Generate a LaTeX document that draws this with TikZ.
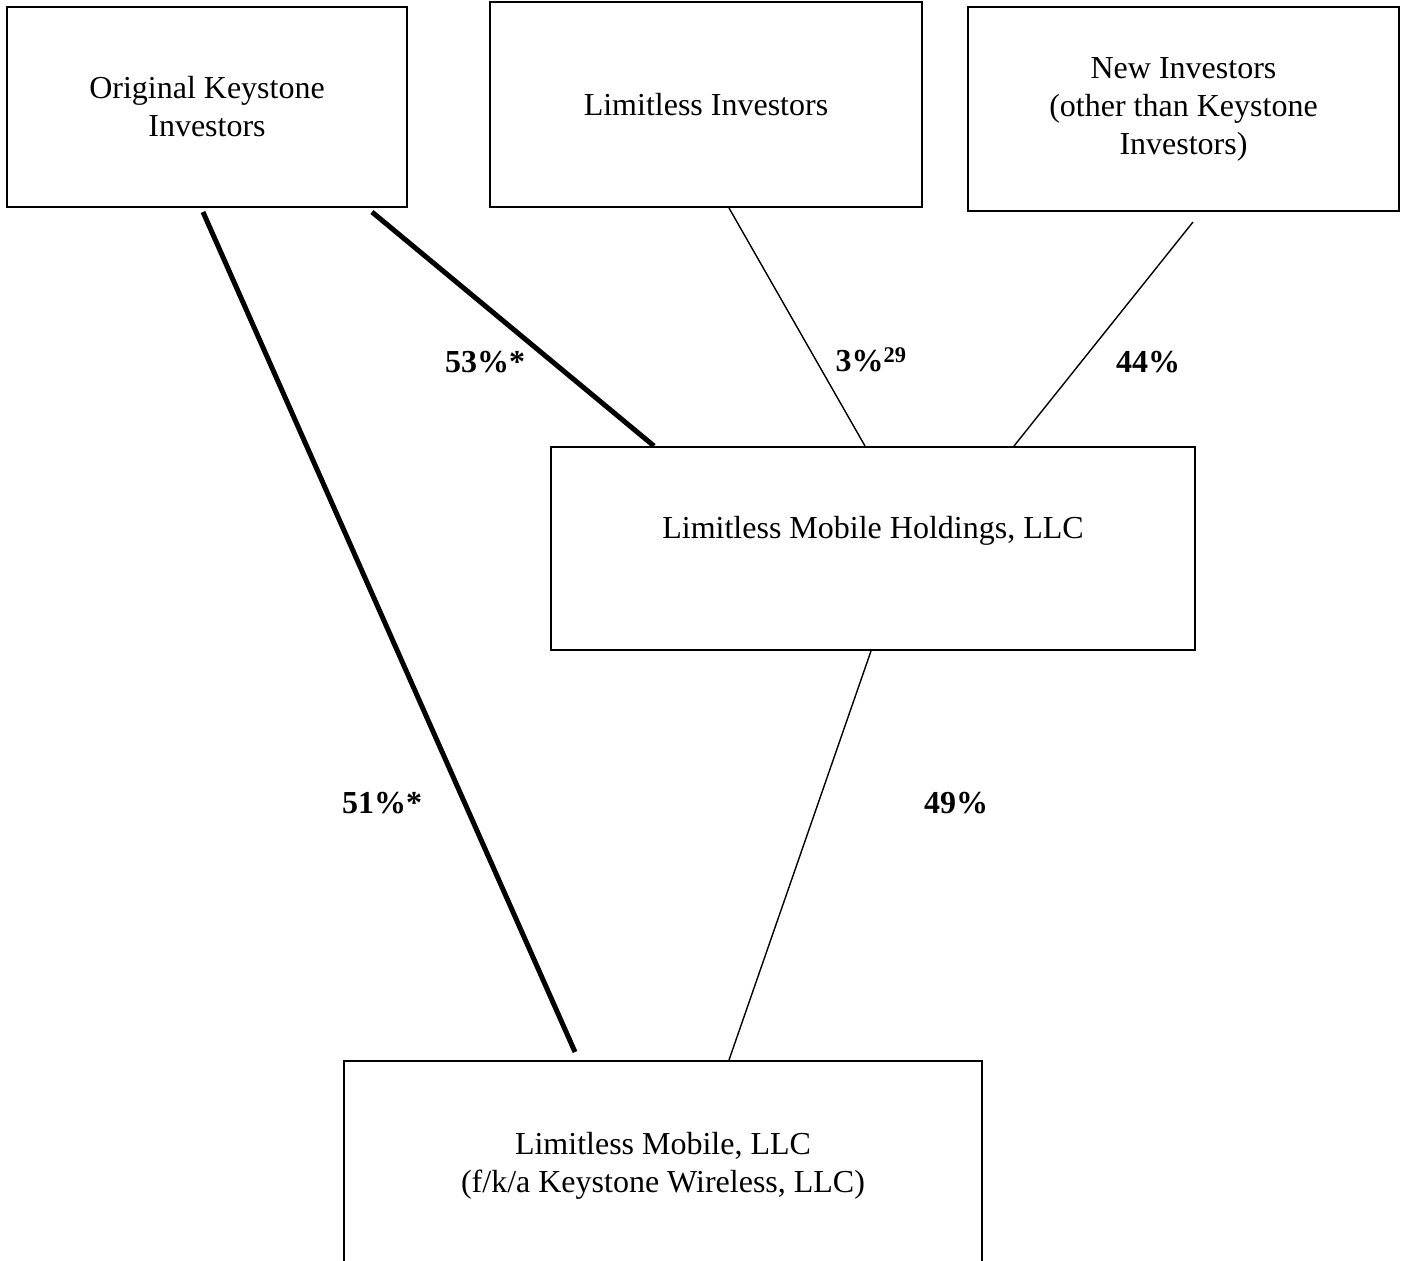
\documentclass[tikz,border=0pt]{standalone}
\usepackage{fontspec}
\setmainfont{Liberation Serif}
\usetikzlibrary{calc}
\begin{document}
\begin{tikzpicture}[x=1pt,y=-1pt,
  box/.style={draw=black,line width=2pt,inner sep=0pt,align=center,
    font=\fontsize{32}{38}\selectfont},
  txt/.style={inner sep=0pt,align=center,font=\fontsize{32}{38}\selectfont},
  pct/.style={inner sep=0pt,font=\fontsize{32}{38}\selectfont\bfseries},
  thickline/.style={line width=5pt},
  thinline/.style={line width=1.4pt}]
\useasboundingbox (0,0) rectangle (1406,1261);
\clip (0,0) rectangle (1406,1261);
\fill[white] (0,0) rectangle (1406,1261);
% boxes
\node[box,minimum width=400pt,minimum height=200pt] (okb) at (207,107) {Original Keystone\\Investors};
\node[box,minimum width=432pt,minimum height=205pt] (lib) at (706,104.5) {Limitless Investors};
\node[box,minimum width=431pt,minimum height=204pt] (nib) at (1183.5,109) {New Investors\\(other than Keystone\\Investors)};
\node[box,minimum width=644pt,minimum height=203pt] (lmh) at (873,548.5) {};
\node[txt] (lmht) at (873,531) {Limitless Mobile Holdings, LLC};
\node[box,minimum width=638pt,minimum height=300pt] (lm) at (663,1211) {};
\node[txt] (lmt) at (663,1166) {Limitless Mobile, LLC\\(f/k/a Keystone Wireless, LLC)};
% connector ends
\coordinate (a1) at ($(okb.south west)+(197,4)$);
\coordinate (a2) at ($(lm.north west)+(232,-8)$);
\coordinate (b1) at ($(okb.south west)+(366,4)$);
\coordinate (b2) at ($(lmh.north west)+(104,0)$);
\coordinate (c1) at ($(lib.south west)+(240,0)$);
\coordinate (c2) at ($(lmh.north west)+(315,0)$);
\coordinate (d1) at ($(nib.south west)+(226,10)$);
\coordinate (d2) at ($(lmh.north west)+(464,0)$);
\coordinate (e1) at ($(lmh.south west)+(321,0)$);
\coordinate (e2) at ($(lm.north west)+(386,0)$);
% connectors
\draw[thickline] (a1) -- (a2);
\draw[thickline] (b1) -- (b2);
\draw[thinline] (c1) -- (c2);
\draw[thinline] (d1) -- (d2);
\draw[thinline] (e1) -- (e2);
% labels
\node[pct] (l53) at (485,362) {53\%*};
\node[pct] (l3) at (871,360) {3\%\textsuperscript{29}};
\node[pct] (l44) at (1148,362) {44\%};
\node[pct] (l51) at (382,803) {51\%*};
\node[pct] (l49) at (956,803) {49\%};
\end{tikzpicture}
\end{document}
